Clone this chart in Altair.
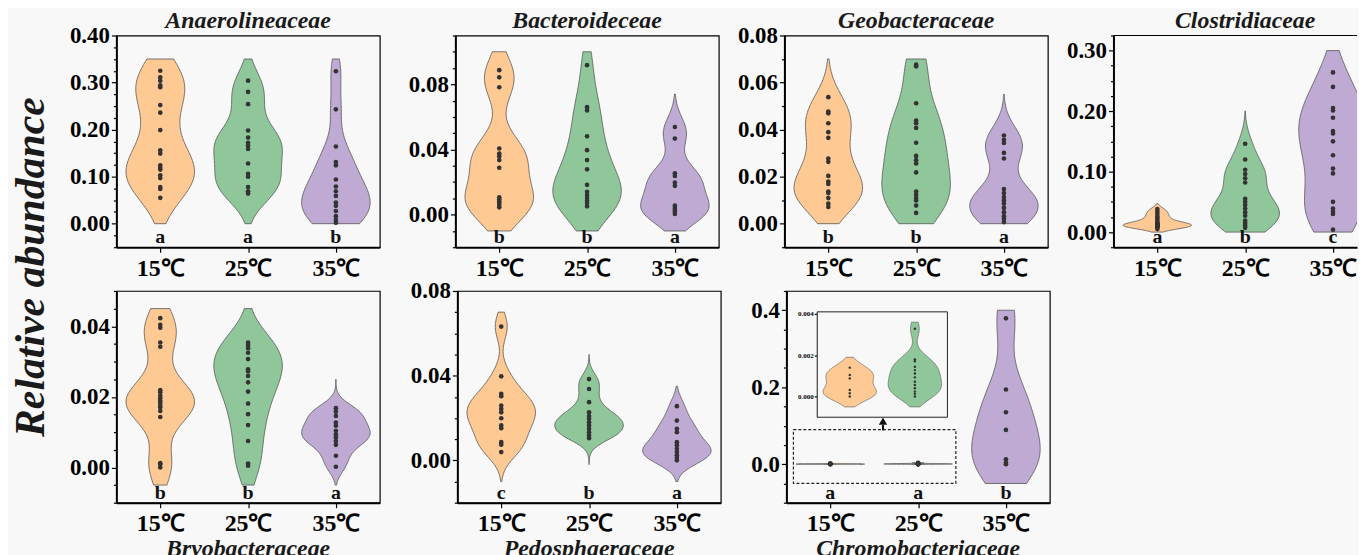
import math
import altair as alt
import numpy as np
import pandas as pd

# ---------------- data ----------------
TEMPS = ["15℃", "25℃", "35℃"]
COLORS = ["#FFC994", "#8FC79A", "#BFAAD4"]
BG = "#F8F8F8"
FONT = "Liberation Serif"

FAMILIES_TOP = ["Anaerolineaceae", "Bacteroideceae", "Geobacteraceae", "Clostridiaceae"]
FAMILIES_BOTTOM = ["Bryobacteraceae", "Pedosphaeraceae", "Chromobacteriaceae"]

ANAERO_15 = [0.325, 0.311, 0.304, 0.294, 0.290, 0.252, 0.236, 0.199, 0.156, 0.149,
             0.124, 0.119, 0.115, 0.103, 0.097, 0.078, 0.074, 0.055]
ANAERO_25 = [0.304, 0.280, 0.254, 0.198, 0.183, 0.172, 0.166, 0.159, 0.128, 0.106,
             0.100, 0.078, 0.069, 0.064]
ANAERO_35 = [0.324, 0.243, 0.164, 0.131, 0.124, 0.094, 0.079, 0.069, 0.059, 0.045,
             0.038, 0.027, 0.016, 0.008, 0.002]

BACTERO_15 = [0.0887, 0.0843, 0.0782, 0.0406, 0.0375, 0.0359, 0.0335, 0.0288, 0.0106,
              0.0095, 0.0081, 0.0071, 0.0059, 0.0045]
BACTERO_25 = [0.0918, 0.0660, 0.0640, 0.0481, 0.0396, 0.0335, 0.0278, 0.0183, 0.0140,
              0.0120, 0.0102, 0.0085, 0.0071, 0.0051]
BACTERO_35 = [0.0538, 0.0467, 0.0254, 0.0238, 0.0197, 0.0177, 0.0055, 0.0041, 0.0030,
              0.0018, 0.0004]

GEO_15 = [0.0538, 0.0477, 0.0469, 0.0427, 0.0389, 0.0365, 0.0277, 0.0263, 0.0203,
          0.0179, 0.0169, 0.0137, 0.0130, 0.0109, 0.0085, 0.0071]
GEO_25 = [0.0676, 0.0669, 0.0512, 0.0438, 0.0427, 0.0407, 0.0344, 0.0288, 0.0270,
          0.0256, 0.0218, 0.0137, 0.0123, 0.0109, 0.0099, 0.0077, 0.0046]
GEO_35 = [0.0375, 0.0357, 0.0343, 0.0301, 0.0277, 0.0147, 0.0130, 0.0113, 0.0099,
          0.0085, 0.0067, 0.0049, 0.0032, 0.0021, 0.0007]

CLOS_15 = [0.038, 0.034, 0.030, 0.026, 0.023, 0.019, 0.016, 0.014, 0.013, 0.012,
           0.011, 0.011, 0.010, 0.010, 0.009, 0.008, 0.005]
CLOS_25 = [0.146, 0.120, 0.103, 0.096, 0.089, 0.082, 0.055, 0.050, 0.045, 0.039,
           0.033, 0.027, 0.019, 0.015, 0.011, 0.007]
CLOS_35 = [0.264, 0.240, 0.205, 0.201, 0.189, 0.167, 0.163, 0.150, 0.127, 0.105,
           0.097, 0.050, 0.039, 0.034, 0.030, 0.004]

BRYO_15 = [0.0423, 0.0404, 0.0396, 0.0354, 0.0342, 0.0219, 0.0212, 0.0203, 0.0196,
           0.0189, 0.0184, 0.0177, 0.0170, 0.0160, 0.0143, 0.0012, 0.0008, 0.0000]
BRYO_25 = [0.0354, 0.0347, 0.0338, 0.0325, 0.0307, 0.0278, 0.0272, 0.0259, 0.0241,
           0.0215, 0.0181, 0.0151, 0.0120, 0.0075, 0.0011, 0.0005]
BRYO_35 = [0.0168, 0.0158, 0.0146, 0.0127, 0.0118, 0.0104, 0.0094, 0.0085, 0.0075,
           0.0064, 0.0033, 0.0002]

PEDO_15 = [0.0632, 0.0397, 0.0314, 0.0303, 0.0259, 0.0243, 0.0227, 0.0199, 0.0165,
           0.0152, 0.0086, 0.0074, 0.0039]
PEDO_25 = [0.0384, 0.0337, 0.0275, 0.0227, 0.0209, 0.0196, 0.0180, 0.0165, 0.0149,
           0.0133, 0.0118, 0.0105]
PEDO_35 = [0.0256, 0.0188, 0.0149, 0.0133, 0.0086, 0.0071, 0.0055, 0.0039, 0.0024,
           0.0011, 0.0000]

CHROMO_15 = [0.00140, 0.00104, 0.00088, 0.00032, 0.00016, 0.00000]
CHROMO_25 = [0.00328, 0.00180, 0.00171, 0.00144, 0.00128, 0.00112, 0.00093, 0.00072,
             0.00056, 0.00040, 0.00024, 0.00013, 0.00000]
CHROMO_35 = [0.379, 0.194, 0.135, 0.089, 0.013, 0.004, 0.000]

VALUES = {
    "Anaerolineaceae": [ANAERO_15, ANAERO_25, ANAERO_35],
    "Bacteroideceae": [BACTERO_15, BACTERO_25, BACTERO_35],
    "Geobacteraceae": [GEO_15, GEO_25, GEO_35],
    "Clostridiaceae": [CLOS_15, CLOS_25, CLOS_35],
    "Bryobacteraceae": [BRYO_15, BRYO_25, BRYO_35],
    "Pedosphaeraceae": [PEDO_15, PEDO_25, PEDO_35],
    "Chromobacteriaceae": [CHROMO_15, CHROMO_25, CHROMO_35],
}

# violin cut limits (lo, hi) per temperature
VIOLIN_EXTENT = {
    "Anaerolineaceae": [(0.0, 0.35), (0.0, 0.35), (0.0, 0.35)],
    "Bacteroideceae": [(-0.01, 0.10), (-0.01, 0.10), (-0.01, 0.074)],
    "Geobacteraceae": [(0.0, 0.07), (0.0, 0.07), (0.0, 0.055)],
    "Clostridiaceae": [(0.0, 0.047), (0.0, 0.20), (0.0, 0.30)],
    "Bryobacteraceae": [(-0.005, 0.045), (-0.005, 0.045), (-0.005, 0.025)],
    "Pedosphaeraceae": [(-0.01, 0.07), (-0.002, 0.05), (-0.01, 0.035)],
    "Chromobacteriaceae": [(-0.0005, 0.0019), (-0.0005, 0.0036), (-0.05, 0.40)],
}

LETTERS = {
    "Anaerolineaceae": ["a", "a", "b"],
    "Bacteroideceae": ["b", "b", "a"],
    "Geobacteraceae": ["b", "b", "a"],
    "Clostridiaceae": ["a", "b", "c"],
    "Bryobacteraceae": ["b", "b", "a"],
    "Pedosphaeraceae": ["c", "b", "a"],
    "Chromobacteriaceae": ["a", "a", "b"],
}

# y axis: domain, major step, minor step, label format
Y_AXIS = {
    "Anaerolineaceae": ([-0.05, 0.40], 0.1, 0.025, ".2f"),
    "Bacteroideceae": ([-0.02, 0.11], 0.04, 0.01, ".2f"),
    "Geobacteraceae": ([-0.01, 0.08], 0.02, 0.01, ".2f"),
    "Clostridiaceae": ([-0.025, 0.325], 0.1, 0.025, ".2f"),
    "Bryobacteraceae": ([-0.01, 0.05], 0.02, 0.005, ".2f"),
    "Pedosphaeraceae": ([-0.02, 0.08], 0.04, 0.01, ".2f"),
    "Chromobacteriaceae": ([-0.1, 0.45], 0.2, 0.05, ".1f"),
}
INSET_Y = ([-0.001, 0.0041], 0.002, 0.002, ".3f")

# annotation in the Chromobacteriaceae panel
ZOOM_BOX_X = [0.58, 2.43]
ZOOM_BOX_Y = [-0.05, 0.09]
ARROW_X = 1.6
ARROW_Y = [0.088, 0.112]
INSET_X_RANGE = [31, 162]
INSET_Y_RANGE = [127, 21]

W, H = 265, 213
W_LAST = 245          # the right-most panel runs off the page edge in the original
HALF = 0.39


def tick_values(lo, hi, step):
    k0 = math.ceil(lo / step - 1e-9)
    k1 = math.floor(hi / step + 1e-9)
    return [round(k * step, 7) for k in range(k0, k1 + 1)]


def silverman(vals):
    a = np.asarray(vals, dtype=float)
    sd = a.std(ddof=1)
    q75, q25 = np.percentile(a, [75, 25])
    s = min(sd, (q75 - q25) / 1.34) if q75 > q25 else sd
    return float(0.9 * s * len(a) ** -0.2)


def y_axis(cfg, font_size=23, major_size=5, minor_size=3, offset=None,
           domain_width=2, pad=2):
    dom, major, minor, fmt = cfg
    test = f"abs(datum.value/{major} - round(datum.value/{major})) < 1e-6"
    kw = dict(
        values=tick_values(dom[0], dom[1], minor),
        labelExpr=f"({test}) ? format(datum.value, '{fmt}') : ''",
        tickSize={"condition": {"test": test, "value": major_size}, "value": minor_size},
        title=None, grid=False, labelOverlap=False, labelBound=False,
        labelFont=FONT, labelFontWeight="bold", labelFontSize=font_size,
        labelColor="black", labelPadding=pad, tickColor="black", tickWidth=1.2,
        domainColor="black", domainWidth=domain_width, orient="left",
    )
    if offset is not None:
        kw["offset"] = offset
    return alt.Axis(**kw)


X_LABEL_EXPR = "[" + ",".join(f"'{t}'" for t in TEMPS) + "][datum.value - 1]"
X_AXIS = alt.Axis(values=[1, 2, 3], labelExpr=X_LABEL_EXPR, title=None, grid=False,
                  labelFont=FONT, labelFontWeight="bold", labelFontSize=24,
                  labelColor="black", labelPadding=4, tickSize=5, tickColor="black",
                  tickWidth=1.2, domainColor="black", domainWidth=2,
                  labelOverlap=False)


def violin_layer(vals, g, lo, hi, xscale, yscale, xaxis, yaxis, half=HALF,
                 stroke_w=0.8, clip=False):
    df = pd.DataFrame({"value": vals})
    return (
        alt.Chart(df)
        .transform_density("value", as_=["value", "density"], extent=[lo, hi], steps=120,
                           bandwidth=silverman(vals))
        .transform_joinaggregate(maxd="max(density)")
        .transform_calculate(
            xl=f"{g + 1} - datum.density / datum.maxd * {half}",
            xr=f"{g + 1} + datum.density / datum.maxd * {half}",
        )
        .mark_area(orient="horizontal", fill=COLORS[g], stroke="#555555",
                   strokeWidth=stroke_w, opacity=1, clip=clip)
        .encode(
            y=alt.Y("value:Q", scale=yscale, axis=yaxis),
            x=alt.X("xl:Q", scale=xscale, axis=xaxis),
            x2="xr:Q",
        )
    )


def points_layer(vals, g, xscale, yscale, xaxis, yaxis, size=22):
    df = pd.DataFrame({"value": vals, "idx": [g + 1] * len(vals)})
    return alt.Chart(df).mark_circle(size=size, color="#333333", opacity=1).encode(
        y=alt.Y("value:Q", scale=yscale, axis=yaxis),
        x=alt.X("idx:Q", scale=xscale, axis=xaxis),
    )


def panel(fam, title_orient, width=W):
    open_right = width < W
    dom = Y_AXIS[fam][0]
    xmax = 0.5 + 3.0 * width / W
    xscale = alt.Scale(domain=[0.5, xmax], nice=False, zero=False)
    yscale = alt.Scale(domain=dom, nice=False, zero=False)
    yaxis = y_axis(Y_AXIS[fam])
    layers = []
    for g in range(3):
        lo, hi = VIOLIN_EXTENT[fam][g]
        layers.append(violin_layer(VALUES[fam][g], g, lo, hi, xscale, yscale, X_AXIS, yaxis,
                                   clip=open_right))
    for g in range(3):
        layers.append(points_layer(VALUES[fam][g], g, xscale, yscale, X_AXIS, yaxis))
    letters = pd.DataFrame({"idx": [1, 2, 3], "letter": LETTERS[fam]})
    layers.append(
        alt.Chart(letters).mark_text(font=FONT, fontWeight="bold", fontSize=20,
                                     baseline="alphabetic", color="#111111")
        .encode(x=alt.X("idx:Q", scale=xscale, axis=X_AXIS), y=alt.value(H - 4),
                text="letter:N")
    )
    if open_right:
        layers.append(
            alt.Chart(pd.DataFrame({"k": [0]})).mark_rule(color="black", strokeWidth=1.2)
            .encode(x=alt.value(0), x2=alt.value(width), y=alt.value(0))
        )

    if fam == "Chromobacteriaceae":
        box = pd.DataFrame({"x": [ZOOM_BOX_X[0]], "x2": [ZOOM_BOX_X[1]],
                            "y": [ZOOM_BOX_Y[0]], "y2": [ZOOM_BOX_Y[1]]})
        layers.append(
            alt.Chart(box).mark_rect(fill="transparent", stroke="#222222",
                                     strokeWidth=1.2, strokeDash=[3, 2])
            .encode(x=alt.X("x:Q", scale=xscale, axis=X_AXIS), x2="x2:Q",
                    y=alt.Y("y:Q", scale=yscale, axis=yaxis), y2="y2:Q")
        )
        arrow = pd.DataFrame({"x": [ARROW_X], "y": [ARROW_Y[0]], "y2": [ARROW_Y[1] - 0.01]})
        layers.append(
            alt.Chart(arrow).mark_rule(color="#111111", strokeWidth=2)
            .encode(x=alt.X("x:Q", scale=xscale, axis=X_AXIS),
                    y=alt.Y("y:Q", scale=yscale, axis=yaxis), y2="y2:Q")
        )
        head = pd.DataFrame({"x": [ARROW_X], "y": [ARROW_Y[1]]})
        layers.append(
            alt.Chart(head).mark_point(shape="triangle-up", filled=True, size=70,
                                       color="#111111", opacity=1)
            .encode(x=alt.X("x:Q", scale=xscale, axis=X_AXIS),
                    y=alt.Y("y:Q", scale=yscale, axis=yaxis))
        )

    main = alt.layer(*layers)

    if fam == "Chromobacteriaceae":
        idom = INSET_Y[0]
        ixs = alt.Scale(domain=[0.5, 2.5], range=INSET_X_RANGE, nice=False, zero=False)
        iys = alt.Scale(domain=idom, range=INSET_Y_RANGE, nice=False, zero=False)
        iyaxis = y_axis(INSET_Y, font_size=7, major_size=3, minor_size=3,
                        offset=-INSET_X_RANGE[0], domain_width=1, pad=1)
        frame = pd.DataFrame({"x": [0.5], "x2": [2.5], "y": [idom[0]], "y2": [idom[1]]})
        ilayers = [
            alt.Chart(frame).mark_rect(fill=BG, stroke="#222222", strokeWidth=1)
            .encode(x=alt.X("x:Q", scale=ixs, axis=None), x2="x2:Q",
                    y=alt.Y("y:Q", scale=iys, axis=iyaxis), y2="y2:Q")
        ]
        for g in range(2):
            lo, hi = VIOLIN_EXTENT[fam][g]
            ilayers.append(violin_layer(VALUES[fam][g], g, lo, hi, ixs, iys, None, iyaxis,
                                        half=0.41, stroke_w=0.6))
        for g in range(2):
            ilayers.append(points_layer(VALUES[fam][g], g, ixs, iys, None, iyaxis, size=6))
        inset = alt.layer(*ilayers)
        main = alt.layer(main, inset).resolve_scale(x="independent", y="independent")

    title = alt.TitleParams(fam, font=FONT, fontSize=24, fontStyle="italic",
                            fontWeight="bold", orient=title_orient, anchor="middle",
                            offset=2, dy=10 if title_orient == "top" else 0,
                            dx=(W - width) / 2, color="#1a1a1a")
    props = dict(width=width, height=H, title=title)
    if open_right:
        props["view"] = alt.ViewBackground(stroke="transparent")
    return main.properties(**props)


P = {f: panel(f, "top") for f in FAMILIES_TOP[:3]}
P["Clostridiaceae"] = panel("Clostridiaceae", "top", width=W_LAST)
P.update({f: panel(f, "bottom") for f in FAMILIES_BOTTOM})

top = alt.hconcat(
    alt.hconcat(P["Anaerolineaceae"], P["Bacteroideceae"], spacing=27),
    alt.hconcat(P["Geobacteraceae"], P["Clostridiaceae"], spacing=17),
    spacing=17,
)
bottom = alt.hconcat(
    alt.hconcat(P["Bryobacteraceae"], P["Pedosphaeraceae"], spacing=29),
    P["Chromobacteriaceae"],
    spacing=28,
)

chart = (
    alt.vconcat(top, bottom, spacing=-2)
    .properties(
        title=alt.TitleParams("Relative abundance", orient="left", anchor="middle",
                              font=FONT, fontSize=42, fontStyle="italic",
                              fontWeight="bold", offset=16, dx=18, color="#1a1a1a"),
        padding={"left": 2, "top": -2, "right": 0, "bottom": 0},
        background=BG,
    )
    .configure_view(stroke="black", strokeWidth=1.2)
)

chart.save("out.html", embed_options={"renderer": "svg", "actions": False})
